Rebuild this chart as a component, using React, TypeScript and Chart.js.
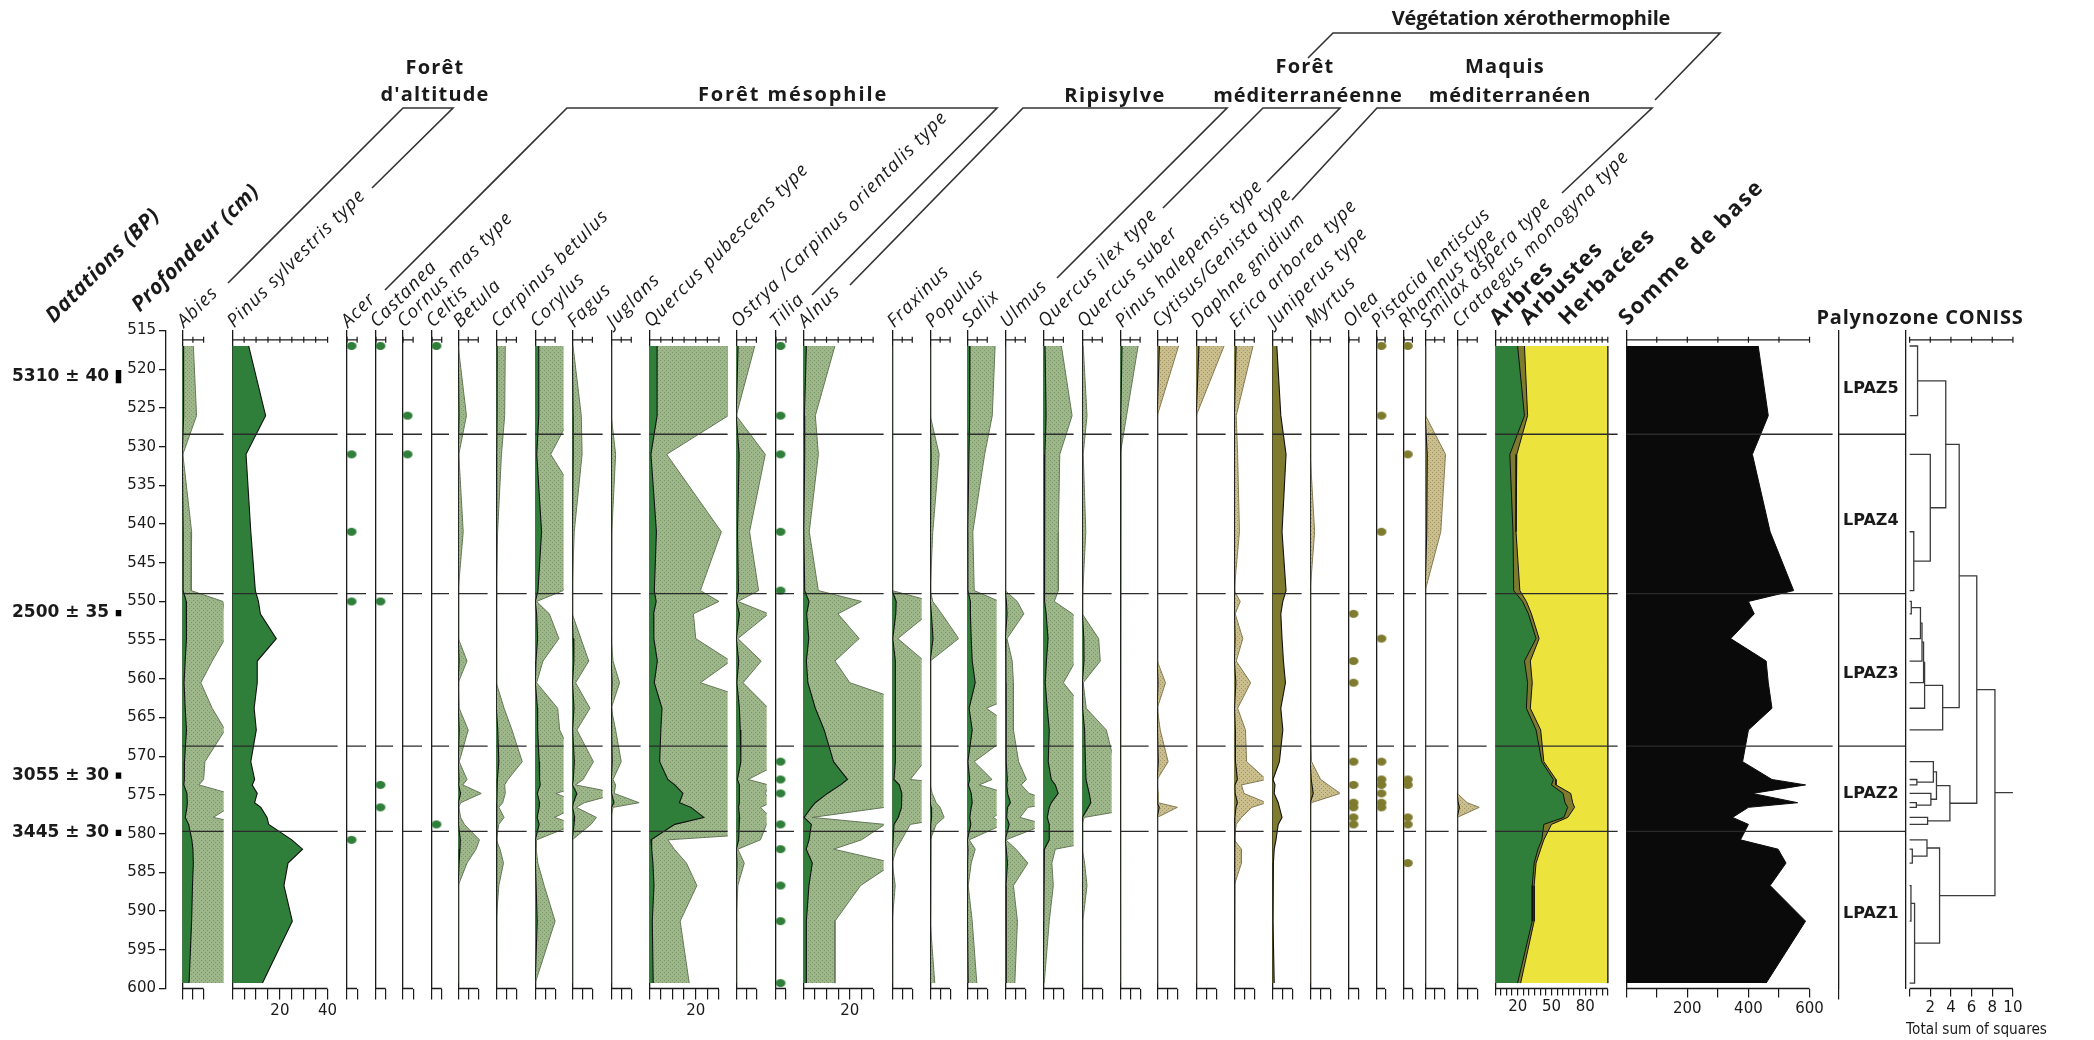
import React, { useEffect, useRef } from 'react';
import { Chart, registerables } from 'chart.js';

Chart.register(...registerables);
Chart.defaults.font.family = 'DejaVu Sans';

/* ======================= DATA ======================= */
// sample depths (cm)
const DEPTHS = [517, 526, 531, 541, 548.6, 550, 551.6, 554.8, 557.7, 560.5, 563.8, 566.6, 570.7, 573.0, 573.7, 574.8, 576.0, 576.6, 577.9, 578.8, 580.8, 582.0, 583.8, 586.7, 591.3, 599.3];

// pollen percentages
const ABIES = [0.52, 0.67, 0.03, 0.44, 0.42, 1.9, 2.0, 2.0, 1.4, 0.87, 1.4, 2.0, 1.06, 1.0, 0.78, 2.2, 2.4, 2.2, 1.45, 3.0, 4.5, 5.0, 5.2, 4.8, 4.4, 3.2];
const PINUS_SYLV = [6.9, 14.0, 5.8, 7.8, 9.7, 11.0, 11.8, 18.5, 10.5, 10.5, 9.2, 10.1, 7.8, 9.4, 8.4, 10.5, 9.4, 12.0, 14.6, 15.3, 25.0, 29.5, 23.4, 21.7, 25.2, 12.7];
const BETULA = [0, 0.41, 0.03, 0.25, 0, 0, 0, 0.02, 0.44, 0, 0.05, 0.5, 0.05, 0.44, 0.23, 1.15, 0.12, 0.03, 0.12, 0.31, 1.06, 0.89, 0.44, 0, 0, 0];
const CARPINUS = [0.45, 0.42, 0.26, 0.07, 0, 0, 0, 0, 0, 0.01, 0.39, 0.78, 1.29, 0.58, 0.42, 0.45, 0.32, 0.13, 0.39, 0.13, 0, 0.19, 0.36, 0.13, 0, 0];
const CORYLUS = [1.8, 1.8, 0.78, 3.2, 1.4, 0.07, 0.71, 1.19, 0.39, 0.07, 1.13, 1.23, 2.0, 2.2, 2.5, 1.04, 2.2, 2.0, 0.97, 2.0, 0.07, 0.05, 0.13, 0.45, 1.0, 0];
const FAGUS = [0.04, 0.45, 0.49, 0.1, 0, 0, 0, 0.43, 0.82, 0.17, 0.88, 0.23, 1.05, 0.54, 0.16, 2.3, 0.6, 0.2, 1.2, 0.93, 0, 0, 0, 0, 0, 0];
const JUGLANS = [0, 0, 0.22, 0.03, 0, 0, 0, 0, 0.09, 0.42, 0, 0.22, 0.5, 0.09, 0.22, 0.15, 1.39, 0.09, 0, 0, 0, 0, 0, 0, 0, 0];
const Q_PUBESCENS = [3.4, 3.4, 0.75, 3.1, 2.2, 3.0, 1.9, 2.0, 3.5, 2.2, 5.5, 5.0, 4.5, 8.0, 11.0, 14.5, 13.0, 18.0, 23.5, 11.0, 0.8, 1.08, 1.6, 2.05, 1.33, 1.72];
const OSTRYA = [0.92, 0, 1.44, 0.66, 1.11, 0.08, 1.6, 0.08, 1.24, 0.34, 1.6, 2.0, 2.3, 0.59, 1.6, 1.45, 1.7, 1.2, 1.7, 1.5, 1.2, 0.08, 0.4, 0.08, 0, 0];
const ALNUS = [1.36, 0.52, 0.65, 0.26, 0.65, 2.5, 1.49, 2.4, 1.36, 2.0, 5.2, 9.0, 13.0, 19.0, 16.0, 10.4, 5.2, 3.5, 0.39, 3.5, 2.5, 1.3, 3.9, 2.46, 1.36, 1.36];
const FRAXINUS = [0, 0, 0, 0, 0, 2.0, 1.8, 0.28, 1.6, 1.6, 1.5, 1.6, 1.6, 0.9, 3.5, 4.8, 4.5, 4.8, 3.0, 0.9, 0.47, 0.2, 0, 0.15, 0, 0];
const POPULUS = [0, 0, 0.45, 0.13, 0, 0.13, 0.58, 1.43, 0, 0, 0, 0, 0, 0, 0, 0.1, 0.3, 0.5, 0.7, 0.3, 0, 0, 0, 0, 0, 0.23];
const SALIX = [1.39, 1.25, 0.87, 0.28, 0.35, 1.6, 1.6, 2.0, 2.5, 4.0, 0.95, 2.5, 0.35, 1.24, 0.6, 2.0, 2.5, 2.0, 1.3, 1.8, 0.1, 0.4, 0.2, 0.05, 0.25, 0.48];
const ULMUS = [0, 0, 0, 0, 0, 0.6, 0.93, 0.09, 0.35, 0.41, 0.41, 0.41, 0.67, 1.06, 0.8, 1.19, 2.6, 1.13, 0.74, 2.0, 0.03, 0.54, 1.13, 0.41, 0.61, 0.48];
const Q_ILEX = [0.9, 1.43, 0.82, 0.75, 0.75, 0.55, 1.45, 2.4, 1.6, 1.0, 2.0, 3.0, 2.5, 4.0, 6.0, 7.4, 4.0, 3.0, 2.0, 3.0, 3.0, 0.6, 0.43, 0.5, 0.3, 0.05];
const Q_SUBER = [0.05, 0.24, 0.05, 0.18, 0.03, 0, 0, 0.82, 0.9, 0.05, 0.2, 1.2, 1.6, 1.9, 2.5, 3.5, 4.3, 3.0, 0.1, 0, 0, 0, 0.12, 0.24, 0.03, 0];
const PINUS_HALEP = [0.9, 0.32, 0, 0, 0, 0, 0, 0, 0, 0, 0, 0, 0, 0, 0, 0, 0, 0, 0, 0, 0, 0, 0, 0, 0, 0];
const CYTISUS = [1.06, 0, 0, 0, 0, 0, 0, 0, 0.02, 0.41, 0, 0.15, 0.54, 0, 0, 0.05, 0.05, 1.0, 0, 0, 0, 0, 0, 0, 0, 0];
const DAPHNE = [1.39, 0, 0, 0, 0, 0, 0, 0, 0, 0, 0, 0, 0, 0, 0, 0, 0, 0, 0, 0, 0, 0, 0, 0, 0, 0];
const ERICA = [0.94, 0.1, 0.17, 0.26, 0, 0.3, 0.05, 0.43, 0.1, 0.82, 0.17, 0.56, 0.62, 1.6, 0.36, 0.49, 1.6, 0.88, 0.36, 0.1, 0, 0.36, 0.36, 0, 0, 0];
const JUNIPERUS = [2.3, 4.3, 6.9, 4.9, 6.9, 5.3, 4.3, 4.9, 5.6, 6.6, 4.3, 5.3, 3.6, 0.4, 1.4, 1.0, 3.0, 3.6, 4.9, 3.0, 1.9, 1.0, 0.6, 0.4, 0.4, 1.0];
const MYRTUS = [0, 0, 0, 0.22, 0, 0, 0, 0, 0, 0, 0, 0, 0.07, 0.52, 0.9, 1.5, 0.05, 0, 0, 0, 0, 0, 0, 0, 0, 0];
const SMILAX = [0, 0.02, 1.07, 0.82, 0, 0, 0, 0, 0, 0, 0, 0, 0, 0, 0, 0, 0, 0, 0, 0, 0, 0, 0, 0, 0, 0];
const CRATAEGUS = [0, 0, 0, 0, 0, 0, 0, 0, 0, 0, 0, 0, 0, 0, 0, 0, 0.5, 1.1, 0, 0, 0, 0, 0, 0, 0, 0];

// presence (<1 %) depths
const ACER_DOTS = [517, 531, 541, 550, 580.8];
const CASTANEA_DOTS = [517, 550, 573.7, 576.6];
const CORNUS_DOTS = [526, 531];
const CELTIS_DOTS = [517, 578.8];
const TILIA_DOTS = [517, 526, 531, 541, 548.6, 570.7, 573.0, 574.8, 578.8, 582.0, 586.7, 591.3, 599.3];
const OLEA_DOTS = [551.6, 557.7, 560.5, 570.7, 573.7, 576.0, 576.6, 577.9, 578.8];
const PISTACIA_DOTS = [517, 526, 541, 554.8, 570.7, 573.0, 573.7, 574.8, 576.0, 576.6];
const RHAMNUS_DOTS = [517, 531, 573.0, 573.7, 577.9, 578.8, 583.8];

// summary diagram (%)
const ARBRES = [19.9, 26.0, 13.0, 15.8, 16.4, 24.3, 29.5, 36.3, 26.0, 28.8, 27.7, 36.3, 41.4, 51.7, 50.0, 60.3, 62.0, 64.4, 61.0, 43.2, 41.4, 38.0, 34.6, 32.9, 32.9, 19.9];
const ARBUSTES = [6.1, 2.8, 6.2, 2.7, 5.5, 3.4, 2.7, 2.7, 5.2, 4.1, 3.5, 4.1, 1.8, 2.3, 4.0, 6.8, 6.8, 6.1, 3.4, 6.8, 1.8, 2.4, 1.7, 1.7, 1.7, 2.7];
const HERBACEES = [74.0, 71.2, 80.8, 81.5, 78.1, 72.3, 67.8, 61.0, 68.8, 67.1, 68.8, 59.6, 56.8, 46.0, 46.0, 32.9, 31.2, 29.5, 35.6, 50.0, 56.8, 59.6, 63.7, 65.4, 65.4, 77.4];

// pollen sum
const SOMME = [432, 465, 413, 471, 548, 400, 419, 342, 458, 465, 477, 400, 381, 477, 587, 413, 561, 400, 348, 400, 374, 497, 523, 471, 587, 458];

// zonation
const ZONE_BOUNDARIES = [528.4, 549.0, 568.7, 579.7];
const ZONE_NAMES = ['LPAZ5', 'LPAZ4', 'LPAZ3', 'LPAZ2', 'LPAZ1'];
const ZONE_LABEL_DEPTHS = [522.6, 539.6, 559.3, 574.8, 590.3];

// radiocarbon dates
const DATE_LABELS = ['5310 ± 40', '2500 ± 35', '3055 ± 30', '3445 ± 30'];
const DATE_TOP = [520.1, 551.1, 572.1, 579.5];
const DATE_BOTTOM = [521.8, 551.9, 572.9, 580.3];

// CONISS dendrogram: [merge height, upper branch, lower branch]; leaves are sample depths
const CONISS_TREE: any = [8.26,
  [6.5,
    [4.8,
      [3.5, [0.77, 517, 526], [2.0, 531, [0.4, 541, 548.6]]],
      [3.2, [1.45, [1.35, [1.2, [1.05, [0.16, 550, 551.6], 554.8], 557.7], 560.5], 563.8], 566.6]],
    [3.9, [2.6, [2.3, 570.7, [0.7, 573.0, 573.7]], [2.06, 574.8, [0.65, 576.0, 576.6]]], [1.74, 577.9, 578.8]]],
  [2.9, [1.68, 580.8, [0.26, 582.0, 583.8]], [0.48, [0.13, 586.7, 591.3], 599.3]]];
const CONISS_TICKS = [0, 2, 4, 6, 8, 10];

/* ======================= STYLE / LAYOUT ======================= */
const INK = '#1a1a1a';
const ZONE_INK = '#2b2b2b';
const DARK_GREEN = '#2f7e39';
const LIGHT_GREEN = '#9db78a';
const LIGHT_GREEN_DOT = '#789666';
const OLIVE = '#7e7a2e';
const TAN = '#cbbe8d';
const TAN_DOT = '#a09466';
const YELLOW = '#ece43c';
const TICK_FONT = 'DejaVu Sans';
const HEAD_FONT = '"Open Sans", "DejaVu Sans", sans-serif';

const CANVAS_TOP = 300;
const CANVAS_H = 740;
const PAD_TOP = 30.5;
const AXIS_H = 51.5;
const DEPTH_MIN = 515;
const DEPTH_MAX = 600;
const PX_PER_PCT = 2.575;
const EXAG = 10;
const TOPBAR_DEPTH = 516.2;
const DOT_X = 2.7;

const SUMMARY_X = 1492;
const SOMME_X = 1623;
const ZONE_X = 1838;
const CONISS_X = 1906;
const CONISS_END = 2047;
const PX_SUMMARY = 1.203;
const PX_SOMME = 0.318;
const PX_CONISS = 10.33;

type Col = { name: string; x: number; kind: 'exag' | 'solid' | 'dots'; tone: 'green' | 'olive'; values?: number[]; dots?: number[]; tickMax: number; step: number; labels?: number[] };

const COLUMNS: Col[] = [
  { name: 'Abies', x: 179, kind: 'exag', tone: 'green', values: ABIES, tickMax: 10, step: 5 },
  { name: 'Pinus sylvestris type', x: 229, kind: 'solid', tone: 'green', values: PINUS_SYLV, tickMax: 40, step: 5, labels: [20, 40] },
  { name: 'Acer', x: 343, kind: 'dots', tone: 'green', dots: ACER_DOTS, tickMax: 6, step: 6 },
  { name: 'Castanea', x: 372, kind: 'dots', tone: 'green', dots: CASTANEA_DOTS, tickMax: 6, step: 6 },
  { name: 'Cornus mas type', x: 399, kind: 'dots', tone: 'green', dots: CORNUS_DOTS, tickMax: 6, step: 6 },
  { name: 'Celtis', x: 428, kind: 'dots', tone: 'green', dots: CELTIS_DOTS, tickMax: 6, step: 6 },
  { name: 'Betula', x: 455, kind: 'exag', tone: 'green', values: BETULA, tickMax: 10, step: 5 },
  { name: 'Carpinus betulus', x: 493, kind: 'exag', tone: 'green', values: CARPINUS, tickMax: 10, step: 5 },
  { name: 'Corylus', x: 532, kind: 'exag', tone: 'green', values: CORYLUS, tickMax: 10, step: 5 },
  { name: 'Fagus', x: 569, kind: 'exag', tone: 'green', values: FAGUS, tickMax: 10, step: 5 },
  { name: 'Juglans', x: 608, kind: 'exag', tone: 'green', values: JUGLANS, tickMax: 10, step: 5 },
  { name: 'Quercus pubescens type', x: 646, kind: 'exag', tone: 'green', values: Q_PUBESCENS, tickMax: 30, step: 5, labels: [20] },
  { name: 'Ostrya /Carpinus orientalis type', x: 733, kind: 'exag', tone: 'green', values: OSTRYA, tickMax: 10, step: 5 },
  { name: 'Tilia', x: 772, kind: 'dots', tone: 'green', dots: TILIA_DOTS, tickMax: 6, step: 6 },
  { name: 'Alnus', x: 800, kind: 'exag', tone: 'green', values: ALNUS, tickMax: 30, step: 5, labels: [20] },
  { name: 'Fraxinus', x: 889, kind: 'exag', tone: 'green', values: FRAXINUS, tickMax: 10, step: 5 },
  { name: 'Populus', x: 927, kind: 'exag', tone: 'green', values: POPULUS, tickMax: 10, step: 5 },
  { name: 'Salix', x: 964, kind: 'exag', tone: 'green', values: SALIX, tickMax: 10, step: 5 },
  { name: 'Ulmus', x: 1002, kind: 'exag', tone: 'green', values: ULMUS, tickMax: 10, step: 5 },
  { name: 'Quercus ilex type', x: 1040, kind: 'exag', tone: 'green', values: Q_ILEX, tickMax: 10, step: 5 },
  { name: 'Quercus suber', x: 1079, kind: 'exag', tone: 'green', values: Q_SUBER, tickMax: 10, step: 5 },
  { name: 'Pinus halepensis type', x: 1117, kind: 'exag', tone: 'green', values: PINUS_HALEP, tickMax: 10, step: 5 },
  { name: 'Cytisus/Genista type', x: 1154, kind: 'exag', tone: 'olive', values: CYTISUS, tickMax: 10, step: 5 },
  { name: 'Daphne gnidium', x: 1193, kind: 'exag', tone: 'olive', values: DAPHNE, tickMax: 10, step: 5 },
  { name: 'Erica arborea type', x: 1231, kind: 'exag', tone: 'olive', values: ERICA, tickMax: 10, step: 5 },
  { name: 'Juniperus type', x: 1269, kind: 'solid', tone: 'olive', values: JUNIPERUS, tickMax: 10, step: 5 },
  { name: 'Myrtus', x: 1307, kind: 'exag', tone: 'olive', values: MYRTUS, tickMax: 10, step: 5 },
  { name: 'Olea', x: 1345, kind: 'dots', tone: 'olive', dots: OLEA_DOTS, tickMax: 6, step: 6 },
  { name: 'Pistacia lentiscus', x: 1373, kind: 'dots', tone: 'olive', dots: PISTACIA_DOTS, tickMax: 5, step: 5 },
  { name: 'Rhamnus type', x: 1400, kind: 'dots', tone: 'olive', dots: RHAMNUS_DOTS, tickMax: 6, step: 6 },
  { name: 'Smilax aspera type', x: 1422, kind: 'exag', tone: 'olive', values: SMILAX, tickMax: 10, step: 5 },
  { name: 'Crataegus monogyna type', x: 1454, kind: 'exag', tone: 'olive', values: CRATAEGUS, tickMax: 10, step: 5 },
];

/* ======================= HELPERS ======================= */
const profile = (vals: number[], k = 1) => vals.map((v, i) => ({ x: v * k, y: DEPTHS[i] }));
const steps = (max: number, step: number) => {
  const a: number[] = [];
  for (let v = 0; v <= max + 1e-9; v += step) a.push(Math.round(v * 1000) / 1000);
  return a;
};

function stipple(base: string, dot: string) {
  const c = document.createElement('canvas');
  c.width = 4; c.height = 4;
  const g = c.getContext('2d')!;
  g.fillStyle = base; g.fillRect(0, 0, 4, 4);
  g.fillStyle = dot; g.fillRect(0, 0, 1, 1); g.fillRect(2, 2, 1, 1);
  return g.createPattern(c, 'repeat');
}

function ellipse(color: string) {
  const c = document.createElement('canvas');
  c.width = 12; c.height = 10;
  const g = c.getContext('2d')!;
  g.fillStyle = color;
  g.beginPath(); g.ellipse(6, 5, 5, 4, 0, 0, Math.PI * 2); g.fill();
  return c;
}

function zoneSets(xMin: number, xMax: number) {
  return ZONE_BOUNDARIES.map((d) => ({
    data: [{ x: xMin, y: d }, { x: xMax, y: d }],
    borderColor: ZONE_INK, borderWidth: 1.3, pointRadius: 0, fill: false, order: 0,
  }));
}

function barSets(tickMax: number, step: number) {
  const ticks = steps(tickMax, step);
  return [
    {
      data: ticks.map((v) => ({ x: v, y: TOPBAR_DEPTH })),
      borderColor: INK, borderWidth: 1.2, fill: false, order: 0,
      pointStyle: 'line', pointRotation: 90, pointRadius: 3,
      pointBorderColor: INK, pointBorderWidth: 1.2, pointBackgroundColor: INK,
    },
    {
      data: [{ x: 0, y: DEPTH_MAX }, { x: tickMax, y: DEPTH_MAX }],
      borderColor: INK, borderWidth: 1.3, pointRadius: 0, fill: false, order: 0, clip: 4,
    },
  ];
}

function baseOptions(xMin: number, xMax: number, tickVals: number[], labelFn: (v: number) => string, o: any = {}) {
  return {
    responsive: false, animation: false, events: [], indexAxis: 'y', devicePixelRatio: 1,
    layout: { padding: { top: PAD_TOP, left: o.padLeft ?? 2, right: o.padRight ?? 0, bottom: 0 } },
    plugins: { legend: { display: false }, tooltip: { enabled: false }, title: { display: false } },
    scales: {
      x: {
        type: 'linear', position: 'bottom', min: xMin, max: xMax,
        border: { display: false },
        grid: { display: true, drawOnChartArea: false, drawTicks: true, tickLength: o.tickLength ?? 11, color: INK, lineWidth: 1.2 },
        ticks: {
          autoSkip: false, maxRotation: 0, minRotation: 0, padding: 3, color: INK,
          font: { family: TICK_FONT, size: 15 }, callback: (v: any) => labelFn(Number(v)),
        },
        title: o.title
          ? { display: true, text: o.title, color: INK, font: { family: TICK_FONT, size: 15 }, padding: { top: 0, bottom: 1 } }
          : { display: false },
        afterBuildTicks: (s: any) => { s.ticks = tickVals.map((v) => ({ value: v })); },
        afterFit: (s: any) => { s.height = AXIS_H; },
      },
      y: {
        type: 'linear', position: 'left', min: DEPTH_MIN, max: DEPTH_MAX, reverse: true,
        border: { display: true, color: INK, width: 1.3 },
        grid: { display: true, drawOnChartArea: false, drawTicks: false },
        ticks: { display: false },
        afterFit: (s: any) => { s.width = 0; },
      },
    },
  };
}

const labelIf = (list: number[] = []) => (v: number) => (list.includes(v) ? String(v) : '');

/* ======================= CHART CONFIGS ======================= */
function columnConfig(col: Col, width: number) {
  const xMax = width / PX_PER_PCT;
  const green = col.tone === 'green';
  const dark = green ? DARK_GREEN : OLIVE;
  const datasets: any[] = [...zoneSets(0, xMax), ...barSets(col.tickMax, col.step)];
  if (col.kind === 'dots') {
    datasets.push({
      data: (col.dots || []).map((d) => ({ x: DOT_X, y: d })),
      showLine: false, pointStyle: ellipse(dark), pointRadius: 5, order: 0,
    });
  } else {
    datasets.push({
      data: profile(col.values || []), fill: 'origin', backgroundColor: dark,
      borderColor: '#111', borderWidth: 1.1, pointRadius: 0, order: 1,
    });
    if (col.kind === 'exag') {
      datasets.push({
        data: profile(col.values || [], EXAG), fill: 'origin',
        backgroundColor: green ? stipple(LIGHT_GREEN, LIGHT_GREEN_DOT) : stipple(TAN, TAN_DOT),
        borderColor: green ? '#66785a' : '#857b57', borderWidth: 1, pointRadius: 0, order: 2,
      });
    }
  }
  return {
    type: 'line', data: { datasets },
    options: baseOptions(0, xMax, steps(col.tickMax, col.step), labelIf(col.labels)),
  };
}

function summaryConfig(width: number) {
  const xMax = width / PX_SUMMARY;
  const shrub = ARBRES.map((v, i) => v + ARBUSTES[i]);
  const all = shrub.map((v, i) => v + HERBACEES[i]);
  const datasets: any[] = [
    ...zoneSets(0, xMax), ...barSets(100, 5),
    { data: profile(all), fill: 'origin', backgroundColor: YELLOW, borderColor: '#333', borderWidth: 1, pointRadius: 0, order: 3 },
    { data: profile(shrub), fill: 'origin', backgroundColor: OLIVE, borderColor: '#111', borderWidth: 1, pointRadius: 0, order: 2 },
    { data: profile(ARBRES), fill: 'origin', backgroundColor: DARK_GREEN, borderColor: '#111', borderWidth: 1, pointRadius: 0, order: 1 },
  ];
  return {
    type: 'line', data: { datasets },
    options: baseOptions(0, xMax, steps(100, 5), labelIf([20, 50, 80]), { tickLength: 7 }),
  };
}

function sommeConfig(width: number) {
  const xMax = width / PX_SOMME;
  const datasets: any[] = [
    ...zoneSets(0, xMax), ...barSets(600, 100),
    { data: profile(SOMME), fill: 'origin', backgroundColor: '#0a0a0a', borderColor: '#0a0a0a', borderWidth: 1, pointRadius: 0, order: 1 },
  ];
  return {
    type: 'line', data: { datasets },
    options: baseOptions(0, xMax, steps(600, 100), labelIf([200, 400, 600]), { tickLength: 9 }),
  };
}

function zoneConfig() {
  const opts: any = baseOptions(0, 1, [0], () => '');
  opts.scales.y.ticks = {
    display: true, mirror: true, crossAlign: 'center', padding: 4, autoSkip: false, color: INK,
    font: { family: TICK_FONT, size: 16, weight: 'bold' },
    callback: (_v: any, i: number) => ZONE_NAMES[i],
  };
  opts.scales.y.afterBuildTicks = (s: any) => { s.ticks = ZONE_LABEL_DEPTHS.map((v) => ({ value: v })); };
  return { type: 'line', data: { datasets: zoneSets(0, 1) }, options: opts };
}

function conissConfig(width: number, padLeft: number, padRight: number) {
  const xMin = -0.35;
  const xMax = xMin + width / PX_CONISS;
  const segs: any[] = [];
  const walk = (n: any): [number, number] => {
    if (typeof n === 'number') return [n, 0];
    const [h, a, b] = n;
    const [ya, ha] = walk(a);
    const [yb, hb] = walk(b);
    segs.push([{ x: ha, y: ya }, { x: h, y: ya }, { x: h, y: yb }, { x: hb, y: yb }]);
    return [(ya + yb) / 2, h];
  };
  const [ry, rh] = walk(CONISS_TREE);
  segs.push([{ x: rh, y: ry }, { x: CONISS_TICKS[CONISS_TICKS.length - 1], y: ry }]);
  const datasets: any[] = [
    ...barSets(10, 2),
    ...segs.map((d) => ({ data: d, borderColor: '#3a3a3a', borderWidth: 1.3, pointRadius: 0, fill: false, order: 1 })),
  ];
  return {
    type: 'line', data: { datasets },
    options: baseOptions(xMin, xMax, CONISS_TICKS, (v) => (v > 0 ? String(v) : ''), {
      tickLength: 8, title: 'Total sum of squares', padLeft, padRight,
    }),
  };
}

function datesConfig() {
  const mids = DATE_TOP.map((t, i) => (t + DATE_BOTTOM[i]) / 2);
  return {
    type: 'line',
    data: {
      datasets: DATE_TOP.map((t, i) => ({
        data: [{ x: 0.5, y: t }, { x: 0.5, y: DATE_BOTTOM[i] }],
        borderColor: '#000', borderWidth: 5.5, borderCapStyle: 'butt', pointRadius: 0, fill: false,
      })),
    },
    options: {
      responsive: false, animation: false, events: [], indexAxis: 'y', devicePixelRatio: 1,
      layout: { padding: { top: PAD_TOP, bottom: AXIS_H, left: 12, right: 0 } },
      plugins: { legend: { display: false }, tooltip: { enabled: false } },
      scales: {
        x: { type: 'linear', display: false, min: 0, max: 1 },
        y: {
          type: 'linear', position: 'left', min: DEPTH_MIN, max: DEPTH_MAX, reverse: true,
          border: { display: false }, grid: { display: false },
          ticks: {
            autoSkip: false, crossAlign: 'far', padding: 0, color: INK,
            font: { family: TICK_FONT, size: 17, weight: 'bold' },
            callback: (_v: any, i: number) => DATE_LABELS[i],
          },
          afterBuildTicks: (s: any) => { s.ticks = mids.map((v) => ({ value: v })); },
          afterFit: (s: any) => { s.width = 101; },
        },
      },
    },
  };
}

function depthConfig() {
  return {
    type: 'line',
    data: { datasets: [] },
    options: {
      responsive: false, animation: false, events: [], indexAxis: 'y', devicePixelRatio: 1,
      layout: { padding: { top: PAD_TOP, bottom: AXIS_H, left: 0, right: 0 } },
      plugins: { legend: { display: false }, tooltip: { enabled: false } },
      scales: {
        x: { type: 'linear', display: false, min: 0, max: 1 },
        y: {
          type: 'linear', position: 'left', min: DEPTH_MIN, max: DEPTH_MAX, reverse: true,
          border: { display: true, color: INK, width: 1.3 },
          grid: { display: true, drawOnChartArea: false, drawTicks: true, tickLength: 7, color: INK, lineWidth: 1.3 },
          ticks: { stepSize: 5, autoSkip: false, padding: 3, color: INK, font: { family: TICK_FONT, size: 15 } },
          afterFit: (s: any) => { s.width = 46; },
        },
      },
    },
  };
}

/* ======================= COMPONENTS ======================= */
function ChartBox({ left, width, build }: { left: number; width: number; build: () => any }) {
  const ref = useRef<HTMLCanvasElement | null>(null);
  useEffect(() => {
    if (!ref.current) return;
    const chart = new Chart(ref.current, build());
    return () => chart.destroy();
  }, []);
  return (
    <canvas
      ref={ref}
      width={width}
      height={CANVAS_H}
      style={{ position: 'absolute', left, top: CANVAS_TOP, width, height: CANVAS_H }}
    />
  );
}

function RotLabel({ text, bx, by, size, weight = 400, italic = false, spacing = 0 }: any) {
  const off = 0.628 * size;
  return (
    <div
      style={{
        position: 'absolute', left: bx - off, top: by - off, transform: 'rotate(-45deg)', transformOrigin: '0 0',
        whiteSpace: 'nowrap', fontFamily: HEAD_FONT, fontSize: size, fontWeight: weight,
        fontStyle: italic ? 'italic' : 'normal', letterSpacing: spacing, lineHeight: 1, color: INK,
      }}
    >
      {text}
    </div>
  );
}

function Title({ text, cx, cy, size = 20, spacing = 0.6 }: any) {
  return (
    <div
      style={{
        position: 'absolute', left: cx, top: cy, transform: 'translate(-50%, -50%)', whiteSpace: 'nowrap',
        fontFamily: HEAD_FONT, fontSize: size, fontWeight: 700, letterSpacing: spacing, lineHeight: 1, color: INK,
      }}
    >
      {text}
    </div>
  );
}

const GROUP_TITLES: [string, number, number, number][] = [
  ['Forêt', 435, 67, 1.2], ["d'altitude", 435, 94, 1.2],
  ['Forêt mésophile', 793, 94, 1.9],
  ['Ripisylve', 1115, 95, 1.4],
  ['Forêt', 1305, 66, 1.2], ['méditerranéenne', 1308, 95, 0.9],
  ['Maquis', 1505, 66, 1.2], ['méditerranéen', 1510, 95, 0.9],
  ['Végétation xérothermophile', 1531, 18, -0.2],
];

const BRACKETS: number[][][] = [
  [[228, 283], [403, 108], [453, 108], [372, 188]],
  [[385, 290], [567, 108], [997, 108], [812, 295]],
  [[850, 285], [1023, 108], [1227, 108], [1057, 278]],
  [[1163, 208], [1263, 108], [1340, 108], [1267, 182]],
  [[1292, 200], [1377, 108], [1652, 108], [1562, 193]],
  [[1308, 58], [1333, 33], [1720, 33], [1655, 100]],
];

export default function App() {
  const cols = COLUMNS.map((c, i) => ({ ...c, next: i + 1 < COLUMNS.length ? COLUMNS[i + 1].x : SUMMARY_X }));
  const conissLeft = 1866;
  return (
    <div style={{ position: 'absolute', left: 0, top: 0, width: 2094, height: 1040, background: '#fff', overflow: 'hidden' }}>
      <ChartBox left={0} width={124} build={datesConfig} />
      <ChartBox left={120} width={48} build={depthConfig} />
      {cols.map((c) => (
        <ChartBox key={c.name} left={c.x - 2} width={c.next - c.x + 2} build={() => columnConfig(c, c.next - c.x)} />
      ))}
      <ChartBox left={SUMMARY_X - 2} width={SOMME_X - SUMMARY_X + 2} build={() => summaryConfig(SOMME_X - SUMMARY_X)} />
      <ChartBox left={SOMME_X - 2} width={ZONE_X - SOMME_X + 2} build={() => sommeConfig(ZONE_X - SOMME_X)} />
      <ChartBox left={ZONE_X - 2} width={CONISS_X - ZONE_X + 2} build={zoneConfig} />
      <ChartBox
        left={conissLeft}
        width={2094 - conissLeft}
        build={() => conissConfig(CONISS_END - CONISS_X, CONISS_X - conissLeft, 2094 - CONISS_END)}
      />

      <svg width={2094} height={340} style={{ position: 'absolute', left: 0, top: 0 }}>
        {BRACKETS.map((p, i) => (
          <polyline key={i} points={p.map((q) => q.join(',')).join(' ')} fill="none" stroke="#333" strokeWidth={1.6} />
        ))}
      </svg>

      {GROUP_TITLES.map(([t, x, y, s], i) => (
        <Title key={i} text={t} cx={x} cy={y} spacing={s} />
      ))}
      <Title text="Palynozone CONISS" cx={1920} cy={317} size={20} spacing={0.8} />

      {COLUMNS.map((c) => (
        <RotLabel key={c.name} text={c.name} bx={c.x + 6} by={329} size={18.5} italic spacing={1.2} />
      ))}
      <RotLabel text="Datations (BP)" bx={54} by={324} size={21} weight={700} italic spacing={0.6} />
      <RotLabel text="Profondeur (cm)" bx={140} by={313} size={21} weight={700} italic spacing={0.6} />
      <RotLabel text="Arbres" bx={1498} by={326} size={22} weight={700} spacing={1.2} />
      <RotLabel text="Arbustes" bx={1528} by={326} size={22} weight={700} spacing={1.2} />
      <RotLabel text="Herbacées" bx={1567} by={326} size={22} weight={700} spacing={1.2} />
      <RotLabel text="Somme de base" bx={1627} by={326} size={22} weight={700} spacing={1.8} />
    </div>
  );
}
